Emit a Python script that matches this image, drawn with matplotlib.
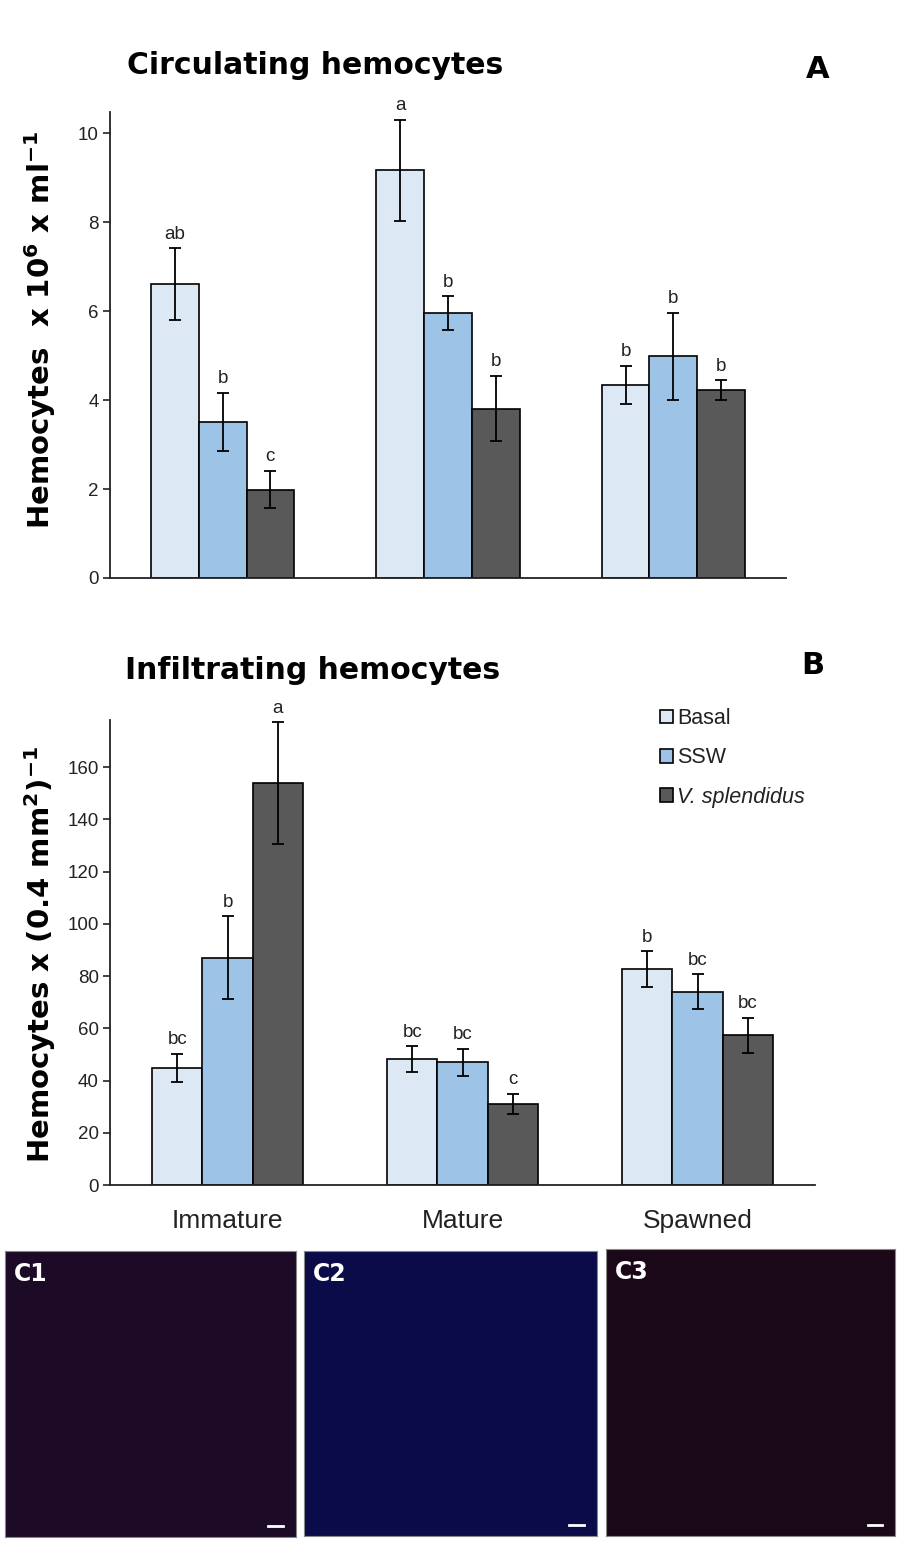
import numpy as np
import matplotlib
matplotlib.use("Agg")
from matplotlib import pyplot as plt
from matplotlib.patches import Patch

plt.rcParams['font.family'] = ['Liberation Sans', 'DejaVu Sans']
plt.rcParams['mathtext.fontset'] = 'custom'
plt.rcParams['mathtext.rm'] = 'DejaVu Sans:bold'
plt.rcParams['mathtext.default'] = 'rm'

# data
stages = ['Immature', 'Mature', 'Spawned']
groups = ['Basal', 'SSW', 'V. splendidus']

circ_mean = [[6.61, 9.17, 4.34],   # Basal
             [3.51, 5.96, 4.99],   # SSW
             [1.99, 3.81, 4.23]]   # V. splendidus
circ_err = [[0.81, 1.14, 0.43],
            [0.66, 0.38, 0.98],
            [0.42, 0.74, 0.22]]
circ_letters = [['ab', 'a', 'b'],
                ['b', 'b', 'b'],
                ['c', 'b', 'b']]

infl_mean = [[44.9, 48.1, 82.6],
             [87.0, 46.9, 74.0],
             [153.8, 31.1, 57.4]]
infl_err = [[5.3, 5.0, 6.8],
            [15.8, 5.3, 6.6],
            [23.4, 3.8, 6.7]]
infl_letters = [['bc', 'bc', 'b'],
                ['b', 'bc', 'bc'],
                ['a', 'c', 'bc']]

colors = ['#dde8f5', '#9dc3e6', '#595959']
panel_labels = ['C1', 'C2', 'C3']
panel_colors = ['#1c0a26', '#0b0b4a', '#1a0717']

W, H = 900, 1543
fig = plt.figure(figsize=(W / 100, H / 100), dpi=100)


def px_rect(x0, y0, x1, y1):
    # pixel box (top-left origin) -> figure fraction rect
    return [x0 / W, 1 - y1 / H, (x1 - x0) / W, (y1 - y0) / H]


def bar_panel(ax, means, errs, letters, width, lsize):
    x = np.arange(len(stages))
    for i in range(len(groups)):
        xs = x + (i - 1) * width
        ax.bar(xs, means[i], width, color=colors[i], edgecolor='black', linewidth=1.2,
               yerr=errs[i], error_kw=dict(ecolor='black', elinewidth=1.3, capsize=4, capthick=1.3),
               label=groups[i], zorder=2)
        for xi, m, e, t in zip(xs, means[i], errs[i], letters[i]):
            ax.annotate(t, (xi, m + e), xytext=(0, 4), textcoords='offset points',
                        ha='center', va='bottom', fontsize=lsize, color='#222222',
                        annotation_clip=False)
    ax.set_xlim(-0.5, 2.5)
    for s in ['top', 'right']:
        ax.spines[s].set_visible(False)
    for s in ['left', 'bottom']:
        ax.spines[s].set_linewidth(1.3)
        ax.spines[s].set_color('#222222')
    ax.tick_params(axis='y', direction='out', length=5, width=1.2, labelsize=13.5, colors='#222222', pad=3)
    ax.tick_params(axis='x', length=0)


# A: circulating hemocytes
axA = fig.add_axes(px_rect(110, 112, 786, 578))
bar_panel(axA, circ_mean, circ_err, circ_letters, 0.212, 13.5)
axA.set_ylim(0, 10.48)
axA.set_yticks([0, 2, 4, 6, 8, 10])
axA.set_xticks([])

fig.text(127 / W, 1 - 65 / H, 'Circulating hemocytes', family='DejaVu Sans', fontweight='bold',
         fontsize=21.5, ha='left', va='center')
fig.text(818 / W, 1 - 70 / H, 'A', family='DejaVu Sans', fontweight='bold', fontsize=22, ha='center', va='center')
fig.text(40 / W, 1 - 330 / H, r'Hemocytes  x 10$^{6}$ x ml$^{-1}$', family='DejaVu Sans', fontweight='bold',
         fontsize=21, rotation=90, ha='center', va='center')

# B: infiltrating hemocytes
axB = fig.add_axes(px_rect(110, 720, 815, 1185))
bar_panel(axB, infl_mean, infl_err, infl_letters, 0.213, 13.5)
axB.set_ylim(0, 178)
axB.set_yticks(np.arange(0, 161, 20))
axB.set_xticks(np.arange(len(stages)))
axB.set_xticklabels(stages, fontsize=19, color='#222222')
axB.tick_params(axis='x', pad=17)

fig.text(125 / W, 1 - 671 / H, 'Infiltrating hemocytes', family='DejaVu Sans', fontweight='bold',
         fontsize=21.5, ha='left', va='center')
fig.text(813 / W, 1 - 666 / H, 'B', family='DejaVu Sans', fontweight='bold', fontsize=22, ha='center', va='center')
fig.text(40 / W, 1 - 954 / H, r'Hemocytes x (0.4 mm$^{2}$)$^{-1}$', family='DejaVu Sans', fontweight='bold',
         fontsize=21, rotation=90, ha='center', va='center')

handles = [Patch(facecolor=c, edgecolor='black', linewidth=1.2) for c in colors]
leg = axB.legend(handles, groups, loc='upper left', bbox_to_anchor=(660 / W, 1 - 708 / H),
                 bbox_transform=fig.transFigure, frameon=False, fontsize=15.5,
                 handlelength=0.6, handleheight=0.6, handletextpad=0.2, labelspacing=0.85,
                 borderpad=0, borderaxespad=0)
for t in leg.get_texts():
    t.set_color('#222222')
leg.get_texts()[2].set_fontstyle('italic')

# C: micrograph panels (flat tone stand-ins)
boxes = [(5, 1251, 296, 1537), (304, 1251, 597, 1536), (606, 1249, 895, 1536)]
for (x0, y0, x1, y1), lab, col in zip(boxes, panel_labels, panel_colors):
    ax = fig.add_axes(px_rect(x0, y0, x1, y1))
    ax.set_facecolor(col)
    ax.set_xticks([])
    ax.set_yticks([])
    for s in ax.spines.values():
        s.set_color('#888888')
        s.set_linewidth(0.8)
    ax.set_xlim(0, 1)
    ax.set_ylim(0, 1)
    ax.text(0.03, 0.96, lab, color='white', fontweight='bold', fontsize=17,
            family='DejaVu Sans', ha='left', va='top', transform=ax.transAxes)
    ax.plot([0.905, 0.955], [0.04, 0.04], color='white', lw=2, transform=ax.transAxes)

fig.savefig('out.png', dpi=100, facecolor='white')
